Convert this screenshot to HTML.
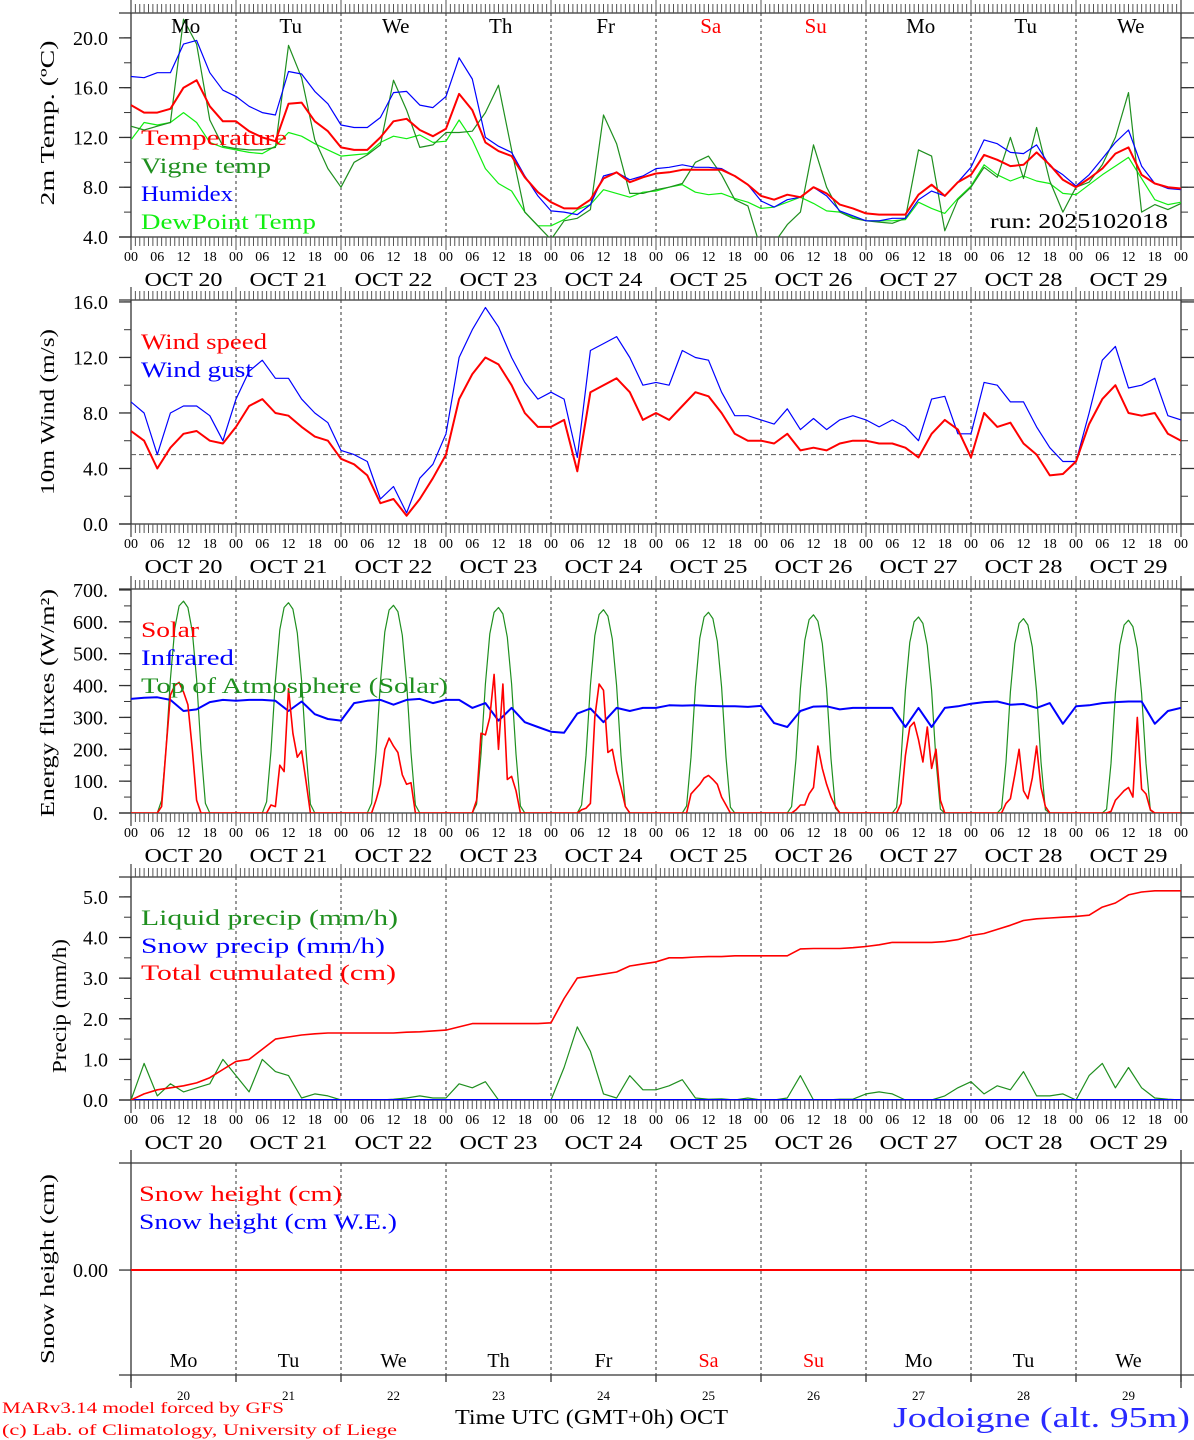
<!DOCTYPE html>
<html><head><meta charset="utf-8"><title>MAR forecast Jodoigne</title>
<style>
html,body{margin:0;padding:0;background:#fff;}
svg{display:block;font-family:"Liberation Serif","DejaVu Serif",serif;}
</style></head>
<body>
<svg id="chart" width="1194" height="1440" viewBox="0 0 1194 1440" xmlns="http://www.w3.org/2000/svg"></svg>
<script>
// ---------- DATA (3-hourly from Oct 20 00 UTC, 81 points) ----------
const dayNames = ["Mo","Tu","We","Th","Fr","Sa","Su","Mo","Tu","We"];
const dayNums = ["20","21","22","23","24","25","26","27","28","29"];
const hourLabels = ["00","06","12","18"];
const tempTicks = [4,8,12,16,20];
const windTicks = [0,4,8,12,16];
const energyTicks = [0,100,200,300,400,500,600,700];
const precipTicks = [0,1,2,3,4,5];

const temperature = [14.6,14.0,14.0,14.3,16.0,16.6,14.5,13.3, 13.3,12.5,12.0,11.7,14.7,14.8,13.3,12.5, 11.2,11.0,11.0,12.0,13.3,13.5,12.6,12.1, 12.7,15.5,14.2,11.6,10.9,10.5,8.8,7.6, 6.8,6.3,6.3,7.0,8.7,9.2,8.4,8.8, 9.1,9.2,9.4,9.4,9.4,9.4,8.9,8.2, 7.3,7.0,7.4,7.2,8.0,7.5,6.6,6.3, 5.9,5.8,5.8,5.8,7.4,8.2,7.3,8.4, 9.0,10.6,10.2,9.7,9.8,10.8,9.8,8.6, 8.0,8.7,9.5,10.7,11.2,9.0,8.3,8.0, 7.9];
const vigneTemp = [12.9,12.6,12.9,13.2,21.5,19.5,13.4,11.3, 11.1,11.0,11.0,11.2,19.4,16.8,11.8,9.5, 8.0,10.0,10.6,11.4,16.6,14.2,11.2,11.4, 12.4,12.4,12.5,14.0,16.2,11.0,6.0,4.9, 3.8,5.3,5.5,6.2,13.8,11.5,7.5,7.5, 7.8,8.0,8.3,10.0,10.5,9.0,7.0,6.5, 3.0,3.5,5.0,6.0,11.4,8.0,6.0,5.5, 5.3,5.2,5.1,5.5,11.0,10.5,4.5,7.0, 8.0,9.6,8.8,12.0,8.7,12.8,8.5,6.0, 8.0,8.4,9.8,12.0,15.6,6.0,6.6,6.2, 6.7];
const humidex = [16.9,16.8,17.2,17.2,19.5,19.8,17.2,15.8, 15.3,14.5,14.0,13.8,17.3,17.1,15.7,14.7, 13.0,12.8,12.8,13.6,15.6,15.7,14.6,14.4, 15.3,18.4,16.7,12.0,11.3,10.8,8.9,7.3, 6.1,6.0,5.8,6.6,8.9,9.2,8.6,8.9, 9.5,9.6,9.8,9.6,9.6,9.5,8.9,8.2, 6.9,6.4,7.0,7.2,8.0,7.3,6.1,5.7, 5.3,5.3,5.5,5.5,7.0,7.7,7.3,8.4, 9.6,11.8,11.5,10.8,10.7,11.4,9.7,9.0, 8.1,9.0,10.3,11.6,12.6,9.7,8.3,7.9, 7.8];
const dewPoint = [11.8,13.2,13.0,13.2,14.0,13.2,11.6,11.2, 11.0,10.8,10.7,11.3,12.4,12.1,11.5,11.0, 10.5,10.6,10.7,11.6,12.1,11.9,12.2,11.6, 11.7,13.4,11.8,9.5,8.3,7.7,6.0,4.9, 4.9,5.4,6.2,6.6,7.8,7.5,7.2,7.6, 7.7,8.0,8.2,7.6,7.4,7.5,7.1,6.8, 6.3,6.4,6.8,7.2,6.7,6.1,6.0,5.6, 5.3,5.3,5.3,5.4,6.8,6.3,5.9,7.1, 8.1,9.8,9.0,8.5,8.9,8.5,8.3,7.5, 7.4,8.2,9.0,9.7,10.4,8.7,7.0,6.6, 6.8];

const windSpeed = [6.7,6.0,4.0,5.5,6.5,6.7,6.0,5.8, 7.0,8.5,9.0,8.0,7.8,7.0,6.3,6.0, 4.7,4.3,3.5,1.5,1.8,0.6,1.8,3.3, 5.0,9.0,10.8,12.0,11.5,10.0,8.0,7.0, 7.0,7.5,3.8,9.5,10.0,10.5,9.5,7.5, 8.0,7.5,8.5,9.5,9.2,8.0,6.5,6.0, 6.0,5.8,6.5,5.3,5.5,5.3,5.8,6.0, 6.0,5.8,5.8,5.5,4.8,6.5,7.5,6.8, 4.8,8.0,7.0,7.3,5.8,5.0,3.5,3.6, 4.5,7.2,9.0,10.0,8.0,7.8,8.0,6.5, 6.0];
const windGust = [8.8,8.0,5.0,8.0,8.5,8.5,7.8,6.0, 9.0,11.0,11.8,10.5,10.5,9.0,8.0,7.3, 5.3,5.0,4.5,1.8,2.7,0.8,3.3,4.3, 6.5,12.0,14.0,15.6,14.2,12.0,10.2,9.0, 9.5,9.0,4.8,12.5,13.0,13.5,12.0,10.0, 10.2,10.0,12.5,12.0,11.8,9.5,7.8,7.8, 7.5,7.2,8.3,6.8,7.6,6.8,7.5,7.8, 7.5,7.0,7.5,7.0,6.0,9.0,9.2,6.5, 6.5,10.2,10.0,8.8,8.8,7.0,5.5,4.5, 4.5,8.0,11.8,12.8,9.8,10.0,10.5,7.8, 7.5];

const infrared = [358,362,363,355,320,325,348,355, 352,355,355,352,320,350,310,295, 290,345,352,355,340,355,358,345, 355,355,330,345,290,330,285,270, 255,252,312,328,285,330,320,330, 330,338,337,338,336,335,335,333, 336,282,270,320,334,335,325,330, 330,330,330,270,330,270,330,335, 343,348,350,340,342,330,345,280, 335,338,345,348,350,350,280,320, 330];

// hourly values for hours 06..18 of each day
const solarByDay = [
 [0,20,200,370,400,410,380,340,200,40,0,0,0],
 [0,0,25,20,150,130,390,250,175,195,100,0,0],
 [0,0,40,90,200,235,210,190,120,90,95,0,0],
 [0,40,250,245,300,435,200,405,105,115,70,0,0],
 [0,10,15,30,300,405,385,190,200,130,80,20,0],
 [0,0,60,75,90,110,118,105,90,50,25,0,0],
 [0,0,10,25,25,60,80,210,140,90,50,20,0],
 [0,0,30,180,270,285,230,160,270,140,200,40,0],
 [0,0,30,45,120,200,70,45,110,210,80,20,0],
 [0,0,5,40,55,70,80,50,300,75,60,10,0]];
const toaByDay = [
 [0,40,200,420,580,650,665,645,570,420,200,30,0],
 [0,35,195,415,575,645,660,640,565,415,195,28,0],
 [0,30,190,410,568,637,652,632,558,410,190,25,0],
 [0,28,185,405,562,630,645,625,552,405,185,22,0],
 [0,25,180,400,556,623,638,618,546,400,180,20,0],
 [0,22,175,395,549,615,630,610,539,395,175,18,0],
 [0,20,170,390,542,607,622,602,532,390,170,15,0],
 [0,18,165,385,536,600,615,595,526,385,165,12,0],
 [0,15,160,380,531,595,610,590,521,380,160,10,0],
 [0,12,155,375,527,590,605,585,517,375,155,8,0]];

const liquidPrecip = [0,0.9,0.1,0.4,0.2,0.3,0.4,1.0, 0.6,0.2,1.0,0.7,0.6,0.05,0.15,0.1, 0,0,0,0,0.02,0.05,0.1,0.05, 0.05,0.4,0.3,0.45,0,0,0,0, 0,0.8,1.8,1.2,0.15,0.05,0.6,0.25, 0.25,0.35,0.5,0.05,0.02,0.03,0,0.05, 0,0,0.05,0.6,0,0,0.02,0.02, 0.15,0.2,0.15,0,0,0,0.1,0.3, 0.45,0.15,0.35,0.25,0.7,0.1,0.1,0.15, 0,0.6,0.9,0.3,0.8,0.3,0.05,0.02, 0];
const cumulated = [0,0.15,0.25,0.3,0.35,0.42,0.55,0.75, 0.95,1.0,1.25,1.5,1.55,1.6,1.63,1.65, 1.65,1.65,1.65,1.65,1.65,1.67,1.68,1.7, 1.72,1.8,1.88,1.88,1.88,1.88,1.88,1.88, 1.9,2.5,3.0,3.05,3.1,3.15,3.3,3.35, 3.4,3.5,3.5,3.52,3.53,3.53,3.55,3.55, 3.55,3.55,3.55,3.72,3.73,3.73,3.73,3.75, 3.78,3.82,3.88,3.88,3.88,3.88,3.9,3.95, 4.05,4.1,4.2,4.3,4.42,4.46,4.48,4.5, 4.52,4.55,4.75,4.85,5.05,5.12,5.15,5.15, 5.15];
const snowPrecip = new Array(81).fill(0);
const snowHeight = new Array(81).fill(0);

// ---------- LAYOUT ----------
const svg = document.getElementById('chart');
const NS = "http://www.w3.org/2000/svg";
const X0 = 131, X1 = 1181, PXH = (X1 - X0) / 240;
function X(h){ return X0 + h * PXH; }
function mk(tag, attrs, parent){
  const e = document.createElementNS(NS, tag);
  for (const k in attrs) e.setAttribute(k, attrs[k]);
  (parent || svg).appendChild(e);
  return e;
}
function txt(s, x, y, size, fill, anchor, parent, len){
  const t = mk('text', {x:x, y:y, 'font-size':size, fill:fill||'#000', 'text-anchor':anchor||'start'}, parent);
  if (len) { t.setAttribute('textLength', len); t.setAttribute('lengthAdjust','spacingAndGlyphs'); }
  t.textContent = s;
  return t;
}

const panels = [
 {id:'temp', top:13, bot:237, vmin:4, vmax:22, ticks:tempTicks, minor:2, fmt:v=>v.toFixed(1), hours:true},
 {id:'wind', top:300, bot:524, vmin:0, vmax:16.14, ticks:windTicks, minor:2, fmt:v=>v.toFixed(1), hours:true},
 {id:'energy', top:589, bot:813, vmin:0, vmax:703, ticks:energyTicks, minor:50, fmt:v=>v+'.', hours:true},
 {id:'precip', top:877, bot:1100, vmin:0, vmax:5.49, ticks:precipTicks, minor:0.5, fmt:v=>v.toFixed(1), hours:true},
 {id:'snow', top:1163, bot:1375, vmin:-1.0, vmax:1.02, ticks:[0], minor:null, fmt:v=>v.toFixed(2), hours:false}
];
function Y(p, v){ return p.bot - (v - p.vmin) / (p.vmax - p.vmin) * (p.bot - p.top); }

const defs = mk('defs', {});
panels.forEach(p => {
  const cp = mk('clipPath', {id:'clip-' + p.id}, defs);
  mk('rect', {x:X0, y:p.top, width:X1 - X0, height:p.bot - p.top}, cp);
});

panels.forEach(p => {
  const g = mk('g', {});
  
  
  // day separators
  for (let d = 1; d < 10; d++) {
    const l = mk('line', {x1:X(d*24), x2:X(d*24), y1:p.top, y2:p.bot, stroke:'#333', 'stroke-width':1, 'stroke-dasharray':'3,3'}, g);
    
    
  }
  // frame
  mk('line', {x1:119, x2:1194, y1:p.top, y2:p.top, stroke:'#333', 'stroke-width':1.3}, g);
  mk('line', {x1:119, x2:1194, y1:p.bot, y2:p.bot, stroke:'#333', 'stroke-width':1.3}, g);
  mk('line', {x1:X0, x2:X0, y1:p.top - 13, y2:p.bot + 13, stroke:'#333', 'stroke-width':1.3}, g);
  mk('line', {x1:X1, x2:X1, y1:p.top - 13, y2:p.bot + 13, stroke:'#333', 'stroke-width':1.3}, g);
  // x ticks
  if (p.hours) {
    for (let h = 0; h <= 240; h++) {
      const big = h % 24 === 0;
      mk('line', {x1:X(h), x2:X(h), y1:p.top - (big ? 13 : 9), y2:p.top, stroke:'#555', 'stroke-width':1}, g);
      mk('line', {x1:X(h), x2:X(h), y1:p.bot, y2:p.bot + (big ? 13 : 9), stroke:'#555', 'stroke-width':1}, g);
    }
    const xl = mk('g', {}, g);
    
    
    for (let d = 0; d < 10; d++) {
      hourLabels.forEach((s, i) => txt(s, X(d*24 + i*6), p.bot + 24, 14, '#000', 'middle', xl));
      txt('OCT ' + dayNums[d], X(d*24 + 12), p.bot + 49, 20, '#000', 'middle', xl, 78);
    }
    txt('00', X(240), p.bot + 24, 14, '#000', 'middle', xl);
  } else {
    for (let d = 0; d <= 10; d++) {
      mk('line', {x1:X(d*24), x2:X(d*24), y1:p.bot, y2:p.bot + 7, stroke:'#333', 'stroke-width':1.3}, g);
    }
  }
  // y ticks
  const yl = mk('g', {}, g);
  
  
  p.ticks.forEach(v => {
    const y = Y(p, v);
    mk('line', {x1:119, x2:X0, y1:y, y2:y, stroke:'#333', 'stroke-width':1.3}, yl);
    mk('line', {x1:X1, x2:1194, y1:y, y2:y, stroke:'#333', 'stroke-width':1.3}, yl);
    txt(p.fmt(v), 108, y + 7, 20, '#000', 'end', yl);
  });
  if (p.minor) {
    for (let v = p.vmin; v <= p.vmax + 1e-6; v += p.minor) {
      const y = Y(p, v);
      mk('line', {x1:124, x2:X0, y1:y, y2:y, stroke:'#333', 'stroke-width':1}, yl);
      mk('line', {x1:X1, x2:1188, y1:y, y2:y, stroke:'#333', 'stroke-width':1}, yl);
    }
  }
});

function series3(p, vals, color, width, name){
  const pts = vals.map((v, i) => X(i*3).toFixed(1) + ',' + Y(p, v).toFixed(1)).join(' ');
  const pl = mk('polyline', {points:pts, fill:'none', stroke:color, 'stroke-width':width, 'stroke-linejoin':'round', 'clip-path':'url(#clip-' + p.id + ')'});
  
  
}
function seriesDaily(p, byDay, color, width, name){
  const pts = [];
  pts.push(X(0) + ',' + Y(p, 0));
  byDay.forEach((arr, d) => arr.forEach((v, i) => pts.push(X(d*24 + 6 + i).toFixed(1) + ',' + Y(p, v).toFixed(1))));
  pts.push(X(240) + ',' + Y(p, 0));
  const pl = mk('polyline', {points:pts.join(' '), fill:'none', stroke:color, 'stroke-width':width, 'stroke-linejoin':'round', 'clip-path':'url(#clip-' + p.id + ')'});
  
  
}
function legend(s, x, y, color, len, name){
  const t = txt(s, x, y, 22, color, 'start', svg, len);
  
  
}
function ylabel(s, cx, cy, len, name){
  const t = mk('text', {x:cx, y:cy, 'font-size':20, 'text-anchor':'middle', transform:'rotate(-90 ' + cx + ' ' + cy + ')', textLength:len, lengthAdjust:'spacingAndGlyphs'});
  t.textContent = s;
  
  
}

const [PT, PW, PE, PP, PS] = panels;
const GREEN = '#1f8f1f', LGREEN = '#11ee11';

// panel 1
series3(PT, dewPoint, LGREEN, 1.2, 'dewpoint-line');
series3(PT, vigneTemp, GREEN, 1.2, 'vigne-temp-line');
series3(PT, humidex, '#0000ff', 1.2, 'humidex-line');
series3(PT, temperature, '#ff0000', 2, 'temperature-line');
dayNames.forEach((s, d) => {
  const t = txt(s, X(d*24 + 12.5), 33, 21, (d === 5 || d === 6) ? '#ff0000' : '#000', 'middle');
  
  
});
legend('Temperature', 141, 145, '#ff0000', 146, 'legend-temperature');
legend('Vigne temp', 141, 173, GREEN, 130, 'legend-vigne-temp');
legend('Humidex', 141, 201, '#0000ff', 92, 'legend-humidex');
legend('DewPoint Temp', 141, 229, LGREEN, 175, 'legend-dewpoint');
const run = txt('run: 2025102018', 990, 228, 21, '#000', 'start', svg, 178);


ylabel('2m Temp. (ºC)', 54, 123, 165, 'y-axis-title-temp');

// panel 2
const dl = mk('line', {x1:X0, x2:X1, y1:Y(PW, 5), y2:Y(PW, 5), stroke:'#555', 'stroke-width':1, 'stroke-dasharray':'5,3'});


series3(PW, windGust, '#0000ff', 1.2, 'wind-gust-line');
series3(PW, windSpeed, '#ff0000', 2, 'wind-speed-line');
legend('Wind speed', 141, 349, '#ff0000', 126, 'legend-wind-speed');
legend('Wind gust', 141, 377, '#0000ff', 112, 'legend-wind-gust');
ylabel('10m Wind (m/s)', 54, 412, 166, 'y-axis-title-wind');

// panel 3
seriesDaily(PE, toaByDay, GREEN, 1.2, 'toa-solar-line');
series3(PE, infrared, '#0000ff', 2, 'infrared-line');
seriesDaily(PE, solarByDay, '#ff0000', 1.6, 'solar-line');
legend('Solar', 141, 637, '#ff0000', 58, 'legend-solar');
legend('Infrared', 141, 665, '#0000ff', 93, 'legend-infrared');
legend('Top of Atmosphere (Solar)', 141, 693, GREEN, 307, 'legend-toa');
const el = mk('text', {x:54, y:703, 'font-size':20, 'text-anchor':'middle', transform:'rotate(-90 54 703)', textLength:228, lengthAdjust:'spacingAndGlyphs'});
el.textContent = 'Energy fluxes (W/m²)';



// panel 4
series3(PP, liquidPrecip, GREEN, 1.2, 'liquid-precip-line');
series3(PP, snowPrecip, '#0000ff', 2, 'snow-precip-line');
series3(PP, cumulated, '#ff0000', 1.6, 'cumulated-precip-line');
legend('Liquid precip (mm/h)', 141, 925, GREEN, 257, 'legend-liquid-precip');
legend('Snow precip (mm/h)', 141, 953, '#0000ff', 244, 'legend-snow-precip');
legend('Total cumulated (cm)', 141, 980, '#ff0000', 255, 'legend-cumulated');
ylabel('Precip (mm/h)', 66, 1006, 134, 'y-axis-title-precip');

// panel 5
series3(PS, snowHeight, '#ff0000', 2, 'snow-height-line');
legend('Snow height (cm)', 139, 1201, '#ff0000', 203, 'legend-snow-height');
legend('Snow height (cm W.E.)', 139, 1229, '#0000ff', 258, 'legend-snow-we');
ylabel('Snow height (cm)', 54, 1269, 190, 'y-axis-title-snow');
dayNames.forEach((s, d) => {
  const t = txt(s, X(d*24 + 12), 1367, 20, (d === 5 || d === 6) ? '#ff0000' : '#000', 'middle');
  
  
});
dayNums.forEach((s, d) => {
  const t = txt(s, X(d*24 + 12), 1400, 13, '#000', 'middle');
  
  
});
const xt = txt('Time UTC (GMT+0h) OCT', 455, 1424, 21, '#000', 'start', svg, 273);


const c1 = txt('MARv3.14 model forced by GFS', 2, 1413, 16, '#ff0000', 'start', svg, 282);


const c2 = txt('(c) Lab. of Climatology, University of Liege', 2, 1435, 16, '#ff0000', 'start', svg, 395);


const st = txt('Jodoigne (alt. 95m)', 893, 1427, 28, '#2a2aff', 'start', svg, 297);


</script>
</body></html>
